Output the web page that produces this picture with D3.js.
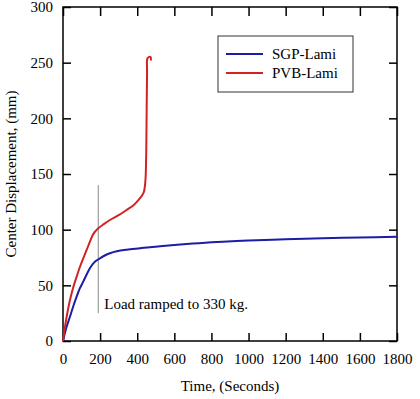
<!DOCTYPE html>
<meta charset="utf-8">
<style>
    body {
        margin: 0;
        background: #fff;
    }

    svg {
        display: block;
    }
</style>

<body>
    <script src="https://d3js.org/d3.v7.min.js"></script>
    <script>

        // time (s) and center displacement (mm)
        var sgpTime = [0, 10, 20, 38, 55, 74, 90, 109, 128, 145, 160, 172, 185, 199, 225, 253, 290, 343, 415, 469, 523, 600, 700, 800, 936, 1000, 1200, 1400, 1600, 1800];
        var sgpDisp = [0, 7, 13, 22, 31, 40, 47, 53.3, 60, 65.3, 69, 71.2, 72.8, 74.3, 76.8, 78.8, 80.6, 82, 83.3, 84.3, 85, 86.2, 87.5, 88.6, 89.8, 90.3, 91.4, 92.3, 93, 93.6];

        var pvbTime = [0, 10, 20, 38, 55, 74, 90, 109, 128, 145, 163, 190, 220, 253, 300, 343, 380, 406, 425, 436, 442, 446, 449, 451, 453, 455, 462, 472, 474];
        var pvbDisp = [0, 12, 22, 37, 48, 58, 66, 74.3, 82, 89.2, 96, 101.2, 105, 108.7, 113, 117.7, 122, 126.5, 130.5, 134, 140, 150, 175, 210, 240, 254, 255, 255, 252];

        var seriesNames = ["SGP-Lami", "PVB-Lami"];
        var seriesColors = ["#1c1ca6", "#d42222"];

        var xTicks = [0, 200, 400, 600, 800, 1000, 1200, 1400, 1600, 1800];
        var yTicks = [0, 50, 100, 150, 200, 250, 300];

        var rampTime = 190;
        var rampFrom = 25, rampTo = 140;

        var width = 420,
            height = 399;

        var margin = { left: 63, right: 23, top: 7, bottom: 58 };
        var innerW = width - margin.left - margin.right,
            innerH = height - margin.top - margin.bottom;

        var svg = d3.select("body")
            .append("svg")
            .attr("width", width)
            .attr("height", height);

        var g = svg.append("g")
            .attr("transform", "translate(" + margin.left + "," + margin.top + ")");

        var x = d3.scaleLinear().domain([0, 1800]).range([0, innerW]);
        var y = d3.scaleLinear().domain([0, 300]).range([innerH, 0]);

        /* ------- AXES (ticks point inward) -------*/

        g.append("g")
            .attr("class", "axis")
            .attr("transform", "translate(0," + innerH + ")")
            .call(d3.axisBottom(x).tickValues(xTicks).tickSize(-8).tickSizeOuter(0).tickPadding(12).tickFormat(d3.format("d")));

        g.append("g")
            .attr("class", "axis")
            .call(d3.axisTop(x).tickValues(xTicks).tickSize(-9).tickSizeOuter(0).tickFormat(""));

        g.append("g")
            .attr("class", "axis")
            .call(d3.axisLeft(y).tickValues(yTicks).tickSize(-8).tickSizeOuter(0).tickPadding(10).tickFormat(d3.format("d")));

        g.append("g")
            .attr("class", "axis")
            .attr("transform", "translate(" + innerW + ",0)")
            .call(d3.axisRight(y).tickValues(yTicks).tickSize(-8).tickSizeOuter(0).tickFormat(""));

        g.selectAll(".axis path.domain").remove();
        g.selectAll(".axis line").style("stroke", "#000").style("stroke-width", "1.5px");

        g.append("rect")
            .attr("width", innerW)
            .attr("height", innerH)
            .attr("fill", "none")
            .attr("stroke", "#000")
            .attr("stroke-width", 1.5);

        /* ------- RAMP MARKER -------*/

        g.append("line")
            .attr("x1", x(rampTime)).attr("x2", x(rampTime))
            .attr("y1", y(rampFrom)).attr("y2", y(rampTo))
            .attr("stroke", "#8a8a8a")
            .attr("stroke-width", 1);

        g.append("text")
            .attr("x", x(rampTime) + 6)
            .attr("y", y(rampFrom) - 4)
            .text("Load ramped to 330 kg.");

        /* ------- CURVES -------*/

        var line = d3.line()
            .x(function (d) { return x(d[0]); })
            .y(function (d) { return y(d[1]); })
            .curve(d3.curveCatmullRom.alpha(0.5));

        g.append("path")
            .datum(d3.zip(sgpTime, sgpDisp))
            .attr("d", line)
            .attr("fill", "none")
            .attr("stroke", seriesColors[0])
            .attr("stroke-width", 2);

        g.append("path")
            .datum(d3.zip(pvbTime, pvbDisp))
            .attr("d", line)
            .attr("fill", "none")
            .attr("stroke", seriesColors[1])
            .attr("stroke-width", 2);

        /* ------- LEGEND -------*/

        var legend = svg.append("g")
            .attr("transform", "translate(218,36)");

        legend.append("rect")
            .attr("width", 135)
            .attr("height", 56)
            .attr("fill", "#fff")
            .attr("stroke", "#333")
            .attr("stroke-width", 1);

        seriesNames.forEach(function (name, i) {
            var row = legend.append("g")
                .attr("transform", "translate(0," + (18 + i * 19) + ")");
            row.append("line")
                .attr("x1", 8).attr("x2", 45)
                .attr("stroke", seriesColors[i])
                .attr("stroke-width", 2);
            row.append("text")
                .attr("x", 54)
                .attr("y", 5)
                .text(name);
        });

        /* ------- AXIS TITLES -------*/

        svg.append("text")
            .attr("x", margin.left + innerW / 2)
            .attr("y", 391)
            .attr("text-anchor", "middle")
            .text("Time, (Seconds)");

        svg.append("text")
            .attr("transform", "translate(16," + (margin.top + innerH / 2) + ") rotate(-90)")
            .attr("text-anchor", "middle")
            .text("Center Displacement, (mm)");

        // one serif face for every label
        svg.selectAll("text")
            .style("font-family", "'Liberation Serif'")
            .style("font-size", "15px")
            .style("fill", "#000");

    </script>
</body>
